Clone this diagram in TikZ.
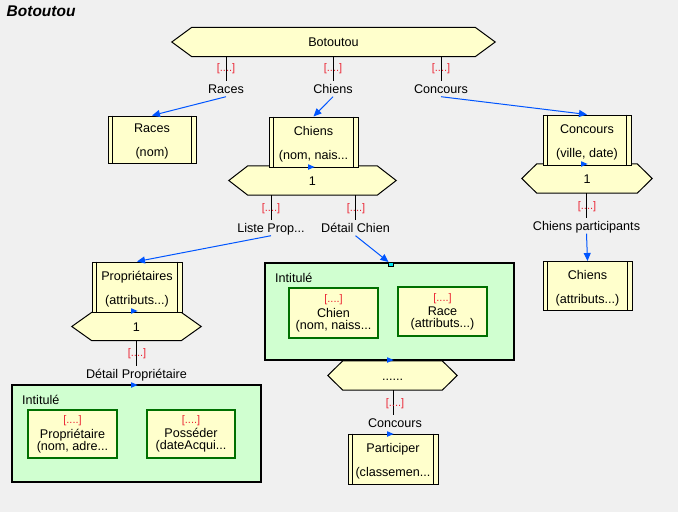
\documentclass[tikz,border=0pt]{standalone}
\usepackage{fontspec}
\setmainfont{Liberation Sans}
\usetikzlibrary{shapes.geometric,arrows.meta}
\pgfdeclarelayer{bg}
\pgfsetlayers{bg,main}
\definecolor{bgc}{RGB}{240,240,240}
\definecolor{boxy}{RGB}{255,255,204}
\definecolor{greenf}{RGB}{208,255,208}
\definecolor{greend}{RGB}{0,112,0}
\definecolor{abl}{RGB}{0,85,255}
\definecolor{redl}{RGB}{235,35,50}
\definecolor{handlec}{RGB}{0,230,240}
\newcommand{\dblines}[1]{\draw[line width=1pt] ([xshift=5pt]#1.north west) -- ([xshift=5pt]#1.south west) ([xshift=-5pt]#1.north east) -- ([xshift=-5pt]#1.south east);}
\newcommand{\hexa}[2]{\begin{pgfonlayer}{bg}\draw[line width=1pt,fill=boxy] ([xshift=-#2pt]#1.west) -- (#1.north west) -- (#1.north east) -- ([xshift=#2pt]#1.east) -- (#1.south east) -- (#1.south west) -- cycle;\end{pgfonlayer}}
\newcommand{\tstrut}{\rule{0pt}{13pt}}
\newcommand{\rtag}{{\fontsize{11}{12}\selectfont\color{redl}[....]}}
\tikzset{
  txt/.style={font=\fontsize{12.6}{15}\selectfont, inner xsep=0pt, inner ysep=3pt, text height=9pt, text depth=0pt},
  redtag/.style={font=\fontsize{11}{13}\selectfont, text=redl, inner sep=0pt},
  hexcore/.style={font=\fontsize{12.6}{15}\selectfont, inner sep=0pt, text height=9pt, text depth=0pt},
  entbox/.style={draw=black, line width=1pt, fill=boxy, inner sep=0pt, align=center, font=\fontsize{12.6}{24}\selectfont},
  grpbox/.style={draw=black, line width=2pt, fill=greenf, inner sep=0pt},
  innbox/.style={draw=greend, line width=2pt, fill=boxy, inner sep=0pt, align=center, font={\fontsize{12.6}{12}\selectfont\lineskiplimit=-20pt}},
  link/.style={line width=1pt, black},
  barrow/.style={abl, line width=1pt, -{Triangle[length=8pt,width=7pt]}},
  tipmark/.style={isosceles triangle, isosceles triangle stretches, fill=abl, inner sep=0pt, minimum width=5.5pt, minimum height=6.5pt},
}
\begin{document}
\begin{tikzpicture}[x=1pt,y=-1pt]
\useasboundingbox (0,0) rectangle (678,512);
\begin{pgfonlayer}{bg}
\fill[bgc] (0,0) rectangle (678,512);
\end{pgfonlayer}

% title
\node[font=\fontsize{15.5}{18}\selectfont\bfseries\itshape, anchor=west, inner sep=0pt] (title) at (6.5,11) {Botoutou};

% top hexagon
\node[hexcore, minimum width=283pt, minimum height=29pt] (hTop) at (333.5,42) {Botoutou};
\hexa{hTop}{20}

% first level labels
\node[txt] (lRaces) at (226,89) {Races};
\node[txt] (lChiens) at (333,89) {Chiens};
\node[txt] (lConcours) at (441,89) {Concours};
\draw[link] (hTop.south -| lRaces) -- (lRaces.north);
\draw[link] (hTop.south -| lChiens) -- (lChiens.north);
\draw[link] (hTop.south -| lConcours) -- (lConcours.north);
\node[redtag] (r1) at (226,69) {[....]};
\node[redtag] (r2) at (333,69) {[....]};
\node[redtag] (r3) at (441,69) {[....]};

% Races box
\node[entbox, minimum width=88pt, minimum height=47pt] (bRaces) at (152,139.5) {\tstrut Races\\(nom)};
\dblines{bRaces}

% Chiens box + hex
\node[entbox, minimum width=89pt, minimum height=50pt] (bChiens) at (313.5,142) {\tstrut Chiens\\(nom, nais...};
\dblines{bChiens}
\node[hexcore, minimum width=129pt, minimum height=29pt] (hChiens) at (312.5,180.5) {1};
\hexa{hChiens}{19}
\node[tipmark] (m1) at (310,167) {};

% Concours box + hex
\node[entbox, minimum width=88pt, minimum height=50pt] (bConcours) at (587,140) {\tstrut Concours\\(ville, date)};
\dblines{bConcours}
\node[hexcore, minimum width=100pt, minimum height=29pt] (hConcours) at (587,178.5) {1};
\hexa{hConcours}{15}
\node[tipmark] (m2) at (583,164) {};

\draw[barrow] (lRaces.south) -- (bRaces.north);
\draw[barrow] (lChiens.south) -- (bChiens.north);
\draw[barrow] (lConcours.south) -- (bConcours.north);

% second level under Chiens
\node[txt] (lListe) at (271,228) {Liste Prop...};
\node[txt] (lDetC) at (355.5,228) {Détail Chien};
\draw[link] (hChiens.south -| lListe) -- (lListe.north);
\draw[link] (hChiens.south -| lDetC) -- (lDetC.north);
\node[redtag] (r4) at (271,209) {[....]};
\node[redtag] (r5) at (356,209) {[....]};

% under Concours
\node[txt] (lPart) at (586.5,226) {Chiens participants};
\draw[link] (hConcours.south -| lPart) -- (lPart.north);
\node[redtag] (r6) at (587,207) {[....]};
\node[entbox, minimum width=89pt, minimum height=49pt] (bChiens2) at (587.5,286) {\tstrut Chiens\\(attributs...)};
\dblines{bChiens2}
\draw[barrow] (lPart.south) -- (bChiens2.north);

% Proprietaires
\node[entbox, minimum width=90pt, minimum height=50pt] (bProp) at (137,287) {\tstrut Propriétaires\\(attributs...)};
\dblines{bProp}
\node[hexcore, minimum width=89pt, minimum height=28pt] (hProp) at (136.5,326.5) {1};
\hexa{hProp}{20}
\node[tipmark] (m3) at (133,311) {};
\draw[barrow] (lListe.south) -- (bProp.north);

\node[txt] (lDetP) at (136.5,374) {Détail Propriétaire};
\draw[link] (hProp.south -| lDetP) -- (lDetP.north);
\node[redtag] (r7) at (137,354) {[....]};

% left group box
\node[grpbox, minimum width=249pt, minimum height=97pt] (gLeft) at (136.5,433.5) {};
\node[txt, anchor=west] (iLeft) at (22,400) {Intitulé};
\node[innbox, minimum width=89pt, minimum height=48pt] (iProp) at (72.5,434) {\rtag\\[3pt]\rule{0pt}{11pt}Propriétaire\\(nom, adre...};
\node[innbox, minimum width=88pt, minimum height=48pt] (iPoss) at (191,434) {\rtag\\[2pt]\rule{0pt}{11pt}Posséder\\(dateAcqui...};
\node[tipmark] (m4) at (133,385) {};

% right group box
\node[grpbox, minimum width=249pt, minimum height=97pt] (gRight) at (389.5,311.5) {};
\node[txt, anchor=west] (iRight) at (275,278) {Intitulé};
\node[innbox, minimum width=89pt, minimum height=50pt] (iChien) at (333.5,313) {\rtag\\[3pt]\rule{0pt}{11pt}Chien\\(nom, naiss...};
\node[innbox, minimum width=89pt, minimum height=49pt] (iRace) at (442.5,311.5) {\rtag\\[2pt]\rule{0pt}{11pt}Race\\(attributs...)};
\node[draw=black, fill=handlec, line width=0.6pt, inner sep=0pt, minimum size=4.5pt] (handle) at (391,264.5) {};
\draw[barrow] (lDetC.south) -- (handle.north west);

% hex under right group
\node[hexcore, minimum width=99pt, minimum height=29pt] (hInt) at (392.5,375.5) {......};
\hexa{hInt}{15}
\node[tipmark] (m5) at (389,360) {};
\node[txt] (lConc2) at (395,423) {Concours};
\draw[link] (hInt.south -| 393,0) -- (lConc2.north -| 393,0);
\node[redtag] (r8) at (395,404) {[....]};

% Participer
\node[entbox, minimum width=90pt, minimum height=50pt] (bPart) at (393,459) {\tstrut Participer\\(classemen...};
\dblines{bPart}
\node[tipmark] (m6) at (389,434) {};
\end{tikzpicture}
\end{document}
